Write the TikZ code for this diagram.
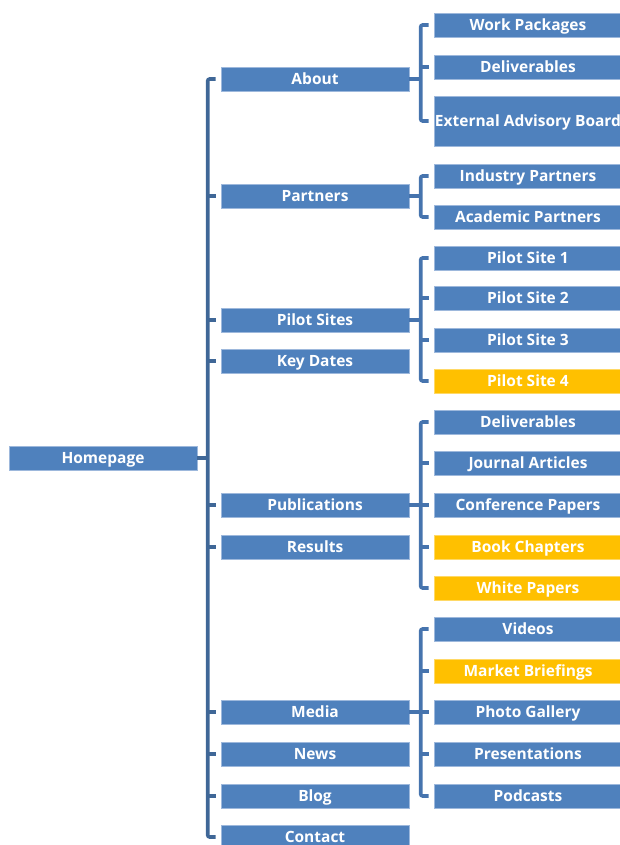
\documentclass[tikz,border=0pt]{standalone}
\usepackage{fontspec}
\setmainfont{Open Sans}
\definecolor{boxblue}{HTML}{4F81BD}
\definecolor{boxedge}{HTML}{9DB8DC}
\definecolor{hlyellow}{HTML}{FFC000}
\definecolor{mainbrk}{HTML}{3F6797}
\definecolor{subbrk}{HTML}{4674AE}
\begin{document}
\begin{tikzpicture}[x=1pt,y=-1pt,
  box/.style={rectangle, minimum width=188pt, minimum height=24pt, inner sep=0pt,
    fill=boxblue, draw=boxedge, line width=0.6pt, text=white,
    text height=11pt, text depth=0pt,
    font=\bfseries\fontsize{15.5}{18}\selectfont},
  hl/.style={box, fill=hlyellow, draw=hlyellow!60!white},
  mbrk/.style={draw=mainbrk, line width=3.6pt, rounded corners=2pt},
  sbrk/.style={draw=subbrk, line width=3.6pt, rounded corners=2pt}]
\useasboundingbox (0,0) rectangle (620,845);
\clip (0,0) rectangle (620,845);
% column 1
\node[box] (home) at (103,458) {Homepage};
% column 2
\node[box] (about) at (315,79) {About};
\node[box] (partners) at (315,196) {Partners};
\node[box] (pilot) at (315,320) {Pilot Sites};
\node[box] (keydates) at (315,361) {Key Dates};
\node[box] (pubs) at (315,505) {Publications};
\node[box] (results) at (315,547) {Results};
\node[box] (media) at (315,712) {Media};
\node[box] (news) at (315,754) {News};
\node[box] (blog) at (315,796) {Blog};
\node[box] (contact) at (315,837) {Contact};
% column 3
\node[box] (wp) at (528,25) {Work Packages};
\node[box] (deliv) at (528,67) {Deliverables};
\node[box, minimum height=50pt] (eab) at (528,121) {External Advisory Board};
\node[box] (ind) at (528,176) {Industry Partners};
\node[box] (acad) at (528,217) {Academic Partners};
\node[box] (ps1) at (528,258) {Pilot Site 1};
\node[box] (ps2) at (528,298) {Pilot Site 2};
\node[box] (ps3) at (528,340) {Pilot Site 3};
\node[hl] (ps4) at (528,381) {Pilot Site 4};
\node[box] (pdeliv) at (528,422) {Deliverables};
\node[box] (journal) at (528,463) {Journal Articles};
\node[box] (conf) at (528,505) {Conference Papers};
\node[hl] (book) at (528,547) {Book Chapters};
\node[hl] (white) at (528,588) {White Papers};
\node[box] (videos) at (528,629) {Videos};
\node[hl] (market) at (528,671) {Market Briefings};
\node[box] (photo) at (528,712) {Photo Gallery};
\node[box] (pres) at (528,754) {Presentations};
\node[box] (pod) at (528,796) {Podcasts};
% main bracket
\draw[mbrk] ([xshift=-5pt]about.west) -| ([xshift=-13pt]contact.west) -- ([xshift=-5pt]contact.west);
\foreach \n in {partners,pilot,keydates,pubs,results,media,news,blog}
  \draw[mbrk] ([xshift=-5pt]\n.west) -- ++(-10,0);
\draw[mbrk] (home.east) -- ++(12,0);
% sub brackets
\draw[sbrk] ([xshift=-5pt]wp.west) -| ([xshift=-13pt]eab.west) -- ([xshift=-5pt]eab.west);
\draw[sbrk] ([xshift=-5pt]deliv.west) -- ++(-10,0);
\draw[sbrk] (about.east) -- ++(13,0);
\draw[sbrk] ([xshift=-5pt]ind.west) -| ([xshift=-13pt]acad.west) -- ([xshift=-5pt]acad.west);
\draw[sbrk] (partners.east) -- ++(13,0);
\draw[sbrk] ([xshift=-5pt]ps1.west) -| ([xshift=-13pt]ps4.west) -- ([xshift=-5pt]ps4.west);
\foreach \n in {ps2,ps3}
  \draw[sbrk] ([xshift=-5pt]\n.west) -- ++(-10,0);
\draw[sbrk] (pilot.east) -- ++(13,0);
\draw[sbrk] ([xshift=-5pt]pdeliv.west) -| ([xshift=-13pt]white.west) -- ([xshift=-5pt]white.west);
\foreach \n in {journal,conf,book}
  \draw[sbrk] ([xshift=-5pt]\n.west) -- ++(-10,0);
\draw[sbrk] (pubs.east) -- ++(13,0);
\draw[sbrk] ([xshift=-5pt]videos.west) -| ([xshift=-13pt]pod.west) -- ([xshift=-5pt]pod.west);
\foreach \n in {market,photo,pres}
  \draw[sbrk] ([xshift=-5pt]\n.west) -- ++(-10,0);
\draw[sbrk] (media.east) -- ++(13,0);
\end{tikzpicture}
\end{document}
